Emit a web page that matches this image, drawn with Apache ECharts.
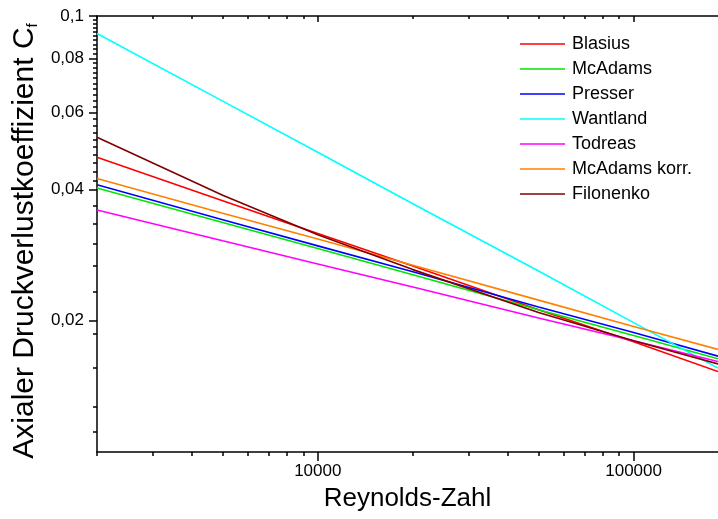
<!DOCTYPE html>
<html>
<head>
<meta charset="utf-8">
<script src="https://cdn.jsdelivr.net/npm/echarts@6/dist/echarts.min.js"></script>
<style>
html,body{margin:0;padding:0;background:#fff;}
#chart{width:718px;height:519px;}
</style>
</head>
<body>
<div id="chart"></div>
<script>
const reynolds = [2000, 5000, 10000, 20000, 50000, 100000, 185000];

const blasius      = [0.0474, 0.0377, 0.0317, 0.0267, 0.0212, 0.0179, 0.0153];
const mcadams      = [0.0403, 0.0336, 0.0293, 0.0255, 0.0212, 0.0185, 0.01636];
const presser      = [0.0410, 0.0341, 0.0297, 0.0259, 0.0215, 0.0188, 0.01659];
const wantland     = [0.0912, 0.0638, 0.0487, 0.0371, 0.0260, 0.0198, 0.01558];
const todreas      = [0.0359, 0.0305, 0.0270, 0.0239, 0.0203, 0.0180, 0.01613];
const mcadamsKorr  = [0.0424, 0.0353, 0.0308, 0.0268, 0.0223, 0.0194, 0.01719];
const filonenko    = [0.0527, 0.0388, 0.0315, 0.0262, 0.0209, 0.0180, 0.01592];

const seriesNames = ['Blasius', 'McAdams', 'Presser', 'Wantland', 'Todreas', 'McAdams korr.', 'Filonenko'];
const seriesValues = [blasius, mcadams, presser, wantland, todreas, mcadamsKorr, filonenko];
const seriesColors = ['#FF0000', '#00E600', '#0000FF', '#00FFFF', '#FF00FF', '#FF8000', '#800000'];

// Axis ticks
const xMin = 2000, xMax = 185000;
const yMin = 0.01, yMax = 0.1;
const xMajorTicks = [10000, 100000];
const xMinorTicks = [2000, 3000, 4000, 5000, 6000, 7000, 8000, 9000,
                     20000, 30000, 40000, 50000, 60000, 70000, 80000, 90000];
const yMajorTicks = [0.02, 0.04, 0.06, 0.08, 0.1];
const yMinorTicks = [0.0111, 0.0127, 0.0156, 0.0187,
                     0.0233, 0.0267, 0.03, 0.0333, 0.0367,
                     0.042, 0.044, 0.046, 0.048, 0.05, 0.052, 0.054, 0.056, 0.058,
                     0.062, 0.064, 0.066, 0.068, 0.07, 0.072, 0.074, 0.076, 0.078,
                     0.082, 0.084, 0.086, 0.088, 0.09, 0.092, 0.094, 0.096, 0.098];

const FONT = '"Liberation Sans", Arial, sans-serif';
const chart = echarts.init(document.getElementById('chart'), null, {renderer: 'canvas'});

const axisLineStyle = {color: '#000', width: 1.5};

const xAxes = [
  { // bottom main: minor ticks + labels + line
    type: 'log', logBase: 10, min: xMin, max: xMax, position: 'bottom',
    name: 'Reynolds-Zahl', nameLocation: 'middle', nameGap: 34,
    nameTextStyle: {fontFamily: FONT, fontSize: 26, color: '#000'},
    axisLine: {show: true, lineStyle: axisLineStyle},
    axisTick: {show: true, inside: false, length: 4, lineStyle: {color: '#000', width: 1.5}, customValues: xMinorTicks},
    axisLabel: {show: true, customValues: xMajorTicks, margin: 11, fontFamily: FONT, fontSize: 17, color: '#000',
                formatter: v => String(Math.round(v))},
    splitLine: {show: false}
  },
  { // bottom overlay: major ticks
    type: 'log', logBase: 10, min: xMin, max: xMax, position: 'bottom',
    axisLine: {show: false},
    axisTick: {show: true, inside: false, length: 9, lineStyle: {color: '#000', width: 1.5}, customValues: xMajorTicks},
    axisLabel: {show: false}, splitLine: {show: false}
  },
  { // top mirror: minor ticks + line
    type: 'log', logBase: 10, min: xMin, max: xMax, position: 'top',
    axisLine: {show: true, lineStyle: axisLineStyle},
    axisTick: {show: true, inside: true, length: 3, lineStyle: {color: '#000', width: 1.5}, customValues: xMinorTicks},
    axisLabel: {show: false}, splitLine: {show: false}
  },
  { // top overlay: major ticks
    type: 'log', logBase: 10, min: xMin, max: xMax, position: 'top',
    axisLine: {show: false},
    axisTick: {show: true, inside: true, length: 6, lineStyle: {color: '#000', width: 1.5}, customValues: xMajorTicks},
    axisLabel: {show: false}, splitLine: {show: false}
  }
];

const yAxes = [
  {
    type: 'log', logBase: 10, min: yMin, max: yMax, position: 'left',
    name: 'Axialer Druckverlustkoeffizient C{sub|f}', nameLocation: 'middle', nameGap: 52,
    nameTextStyle: {fontFamily: FONT, fontSize: 30, color: '#000', padding: [0, 14, 0, 0],
                    rich: {sub: {fontFamily: FONT, fontSize: 15, color: '#000', verticalAlign: 'bottom', padding: [14, 0, 0, 0]}}},
    axisLine: {show: true, lineStyle: axisLineStyle},
    axisTick: {show: true, inside: false, length: 4, lineStyle: {color: '#000', width: 1.5}, customValues: yMinorTicks},
    axisLabel: {show: true, customValues: yMajorTicks, margin: 13, fontFamily: FONT, fontSize: 17, color: '#000',
                formatter: v => String(+v.toFixed(3)).replace('.', ',')},
    splitLine: {show: false}
  },
  {
    type: 'log', logBase: 10, min: yMin, max: yMax, position: 'left',
    axisLine: {show: false},
    axisTick: {show: true, inside: false, length: 8, lineStyle: {color: '#000', width: 1.5}, customValues: yMajorTicks},
    axisLabel: {show: false}, splitLine: {show: false}
  }
];

const series = seriesNames.map((name, i) => ({
  name: name,
  type: 'line',
  xAxisIndex: 0, yAxisIndex: 0,
  data: reynolds.map((re, j) => [re, seriesValues[i][j]]),
  symbol: 'none',
  smooth: false,
  lineStyle: {color: seriesColors[i], width: 1.6},
  itemStyle: {color: seriesColors[i]},
  animation: false
}));

chart.setOption({
  backgroundColor: '#fff',
  animation: false,
  grid: {left: 97, top: 16, right: 0, bottom: 67, containLabel: false},
  legend: {
    orient: 'vertical', left: 520, top: 35, padding: 0,
    icon: 'rect', itemWidth: 45, itemHeight: 1.6, itemGap: 7,
    textStyle: {fontFamily: FONT, fontSize: 18, color: '#000', padding: [0, 0, 0, 2]},
    data: seriesNames
  },
  xAxis: xAxes,
  yAxis: yAxes,
  series: series
});
</script>
</body>
</html>
